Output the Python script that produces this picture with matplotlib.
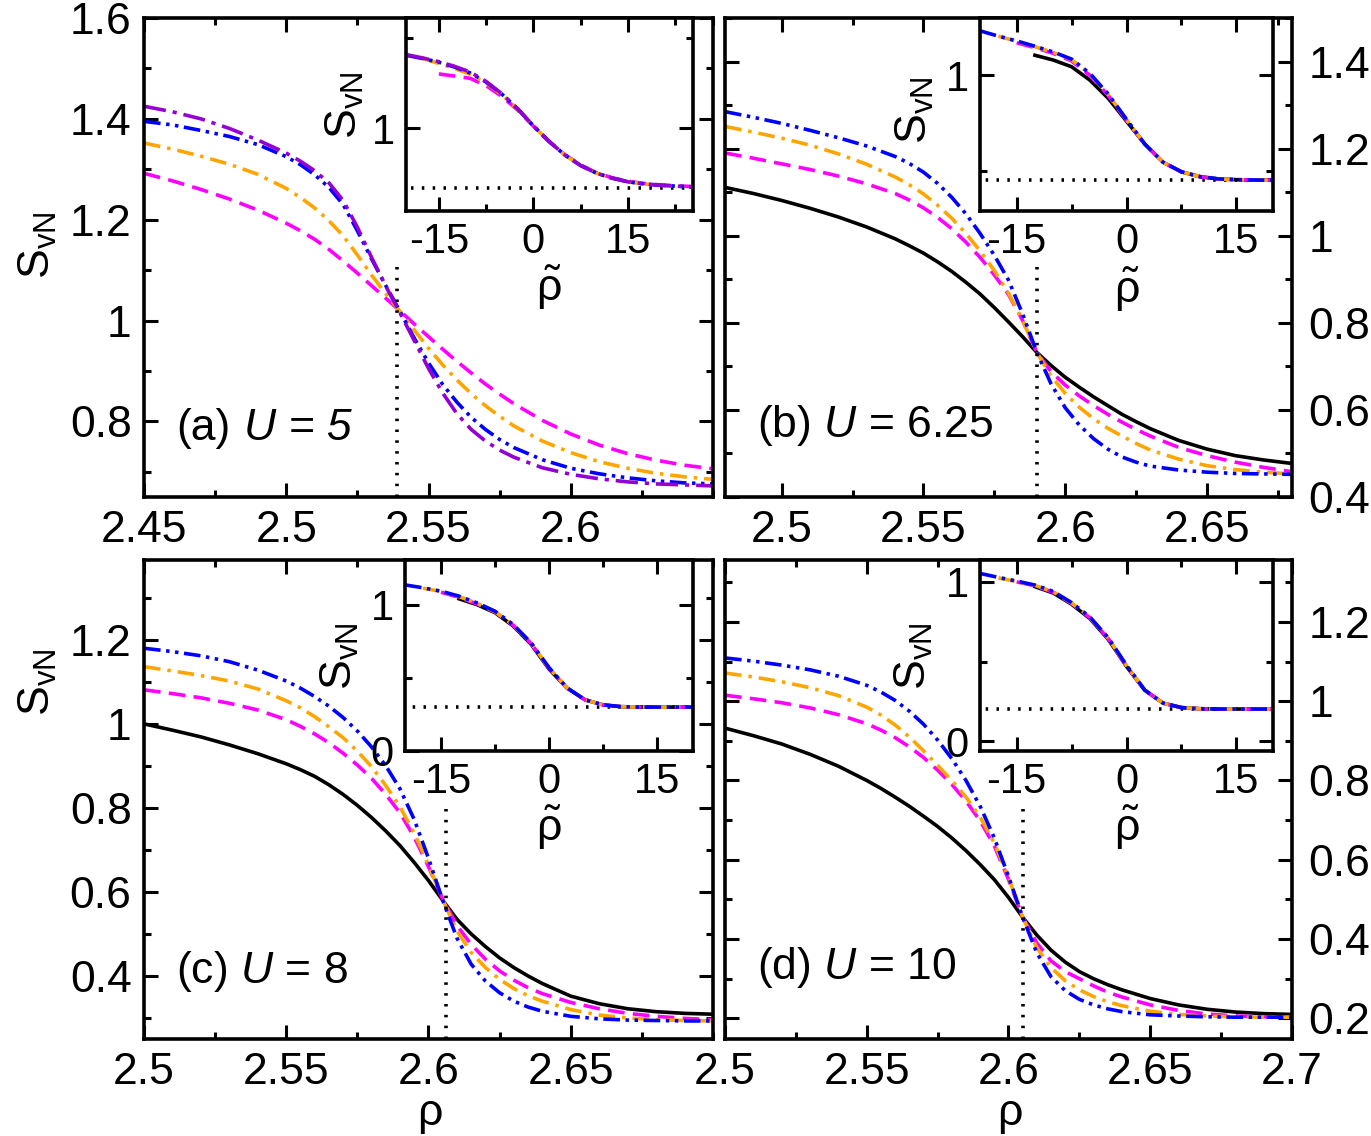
import numpy as np
import matplotlib
matplotlib.use('Agg')
import matplotlib.pyplot as plt
from matplotlib.ticker import MultipleLocator, FixedLocator, FixedFormatter

plt.rcParams['font.family'] = ['Liberation Sans', 'DejaVu Sans']
plt.rcParams['mathtext.fontset'] = 'custom'
plt.rcParams['mathtext.rm'] = 'Liberation Sans'
plt.rcParams['mathtext.it'] = 'Liberation Sans:italic'
plt.rcParams['lines.scale_dashes'] = False

# ---------------- data ----------------
# panel (a) U = 5
rho_a = [2.45, 2.46, 2.47, 2.48, 2.49, 2.50, 2.505, 2.51, 2.515, 2.52, 2.525, 2.53, 2.535, 2.54, 2.545,
         2.55, 2.555, 2.56, 2.565, 2.57, 2.575, 2.58, 2.59, 2.60, 2.61, 2.62, 2.63, 2.64, 2.65]
a_pur = [1.425, 1.414, 1.400, 1.381, 1.358, 1.332, 1.316, 1.297, 1.273, 1.238, 1.185, 1.125, 1.068, 1.015, 0.960,
         0.905, 0.856, 0.815, 0.784, 0.761, 0.743, 0.729, 0.708, 0.695, 0.686, 0.680, 0.676, 0.674, 0.672]
a_blu = [1.395, 1.388, 1.377, 1.365, 1.349, 1.325, 1.309, 1.289, 1.264, 1.230, 1.178, 1.122, 1.069, 1.018, 0.965,
         0.916, 0.873, 0.838, 0.808, 0.784, 0.764, 0.748, 0.724, 0.707, 0.696, 0.688, 0.682, 0.678, 0.676]
a_org = [1.352, 1.340, 1.326, 1.310, 1.290, 1.262, 1.244, 1.223, 1.198, 1.168, 1.130, 1.090, 1.053, 1.018, 0.981,
         0.945, 0.912, 0.882, 0.855, 0.831, 0.810, 0.791, 0.761, 0.738, 0.720, 0.707, 0.697, 0.690, 0.685]
a_mag = [1.292, 1.277, 1.260, 1.241, 1.219, 1.193, 1.178, 1.161, 1.141, 1.118, 1.094, 1.069, 1.044, 1.019, 0.993,
         0.968, 0.943, 0.919, 0.896, 0.874, 0.854, 0.835, 0.802, 0.775, 0.753, 0.736, 0.723, 0.713, 0.706]

# panel (b) U = 6.25
rho_b = [2.48, 2.49, 2.50, 2.51, 2.52, 2.53, 2.54, 2.545, 2.55, 2.555, 2.56, 2.565, 2.57, 2.575, 2.58,
         2.585, 2.59, 2.595, 2.60, 2.605, 2.61, 2.615, 2.62, 2.625, 2.63, 2.64, 2.65, 2.66, 2.67, 2.68]
b_blk = [1.111, 1.097, 1.081, 1.063, 1.043, 1.020, 0.993, 0.977, 0.960, 0.940, 0.918, 0.893, 0.866, 0.835, 0.802,
         0.768, 0.732, 0.702, 0.675, 0.652, 0.630, 0.610, 0.590, 0.573, 0.557, 0.530, 0.510, 0.495, 0.485, 0.477]
b_mag = [1.190, 1.178, 1.165, 1.152, 1.137, 1.119, 1.097, 1.082, 1.064, 1.042, 1.016, 0.985, 0.950, 0.910, 0.865,
         0.805, 0.732, 0.688, 0.657, 0.632, 0.610, 0.590, 0.572, 0.555, 0.540, 0.514, 0.495, 0.480, 0.468, 0.458]
b_org = [1.251, 1.238, 1.224, 1.208, 1.188, 1.164, 1.135, 1.117, 1.096, 1.070, 1.040, 1.005, 0.965, 0.920, 0.868,
         0.805, 0.732, 0.678, 0.638, 0.606, 0.580, 0.558, 0.540, 0.523, 0.508, 0.487, 0.472, 0.463, 0.457, 0.453]
b_blu = [1.285, 1.272, 1.258, 1.242, 1.225, 1.206, 1.182, 1.166, 1.146, 1.120, 1.088, 1.050, 1.005, 0.955, 0.898,
         0.820, 0.732, 0.660, 0.605, 0.565, 0.534, 0.510, 0.492, 0.480, 0.471, 0.462, 0.457, 0.454, 0.453, 0.452]

# panel (c) U = 8
rho_c = [2.50, 2.51, 2.52, 2.53, 2.54, 2.55, 2.555, 2.56, 2.565, 2.57, 2.575, 2.58, 2.585, 2.59, 2.595,
         2.60, 2.605, 2.61, 2.615, 2.62, 2.625, 2.63, 2.635, 2.64, 2.65, 2.66, 2.67, 2.68, 2.69, 2.70]
c_blk = [1.000, 0.985, 0.969, 0.950, 0.929, 0.905, 0.891, 0.875, 0.855, 0.832, 0.806, 0.777, 0.745, 0.710, 0.670,
         0.627, 0.580, 0.535, 0.500, 0.470, 0.443, 0.420, 0.400, 0.382, 0.352, 0.334, 0.322, 0.315, 0.311, 0.309]
c_mag = [1.081, 1.072, 1.062, 1.049, 1.033, 1.010, 0.994, 0.976, 0.955, 0.930, 0.902, 0.870, 0.832, 0.788, 0.730,
         0.660, 0.583, 0.520, 0.475, 0.440, 0.412, 0.390, 0.372, 0.358, 0.337, 0.322, 0.311, 0.304, 0.299, 0.296]
c_org = [1.136, 1.126, 1.115, 1.102, 1.083, 1.055, 1.038, 1.017, 0.993, 0.967, 0.935, 0.898, 0.853, 0.802, 0.740,
         0.664, 0.582, 0.507, 0.456, 0.420, 0.392, 0.370, 0.353, 0.340, 0.320, 0.307, 0.300, 0.296, 0.294, 0.293]
c_blu = [1.180, 1.172, 1.162, 1.148, 1.128, 1.102, 1.085, 1.065, 1.042, 1.015, 0.983, 0.945, 0.900, 0.845, 0.772,
         0.680, 0.580, 0.490, 0.428, 0.388, 0.360, 0.340, 0.326, 0.316, 0.304, 0.298, 0.295, 0.294, 0.293, 0.293]

# panel (d) U = 10
rho_d = [2.50, 2.51, 2.52, 2.53, 2.54, 2.55, 2.555, 2.56, 2.565, 2.57, 2.575, 2.58, 2.585, 2.59, 2.595,
         2.60, 2.605, 2.61, 2.615, 2.62, 2.625, 2.63, 2.635, 2.64, 2.65, 2.66, 2.67, 2.68, 2.69, 2.70]
d_blk = [0.932, 0.913, 0.892, 0.866, 0.836, 0.800, 0.780, 0.758, 0.735, 0.710, 0.684, 0.655, 0.623, 0.588, 0.550,
         0.505, 0.455, 0.410, 0.372, 0.342, 0.318, 0.300, 0.285, 0.272, 0.250, 0.234, 0.223, 0.216, 0.212, 0.210]
d_mag = [1.015, 1.006, 0.996, 0.983, 0.966, 0.943, 0.927, 0.908, 0.885, 0.858, 0.826, 0.790, 0.748, 0.698, 0.635,
         0.550, 0.455, 0.390, 0.345, 0.318, 0.300, 0.282, 0.266, 0.254, 0.234, 0.220, 0.211, 0.206, 0.204, 0.203]
d_org = [1.071, 1.061, 1.049, 1.034, 1.014, 0.985, 0.965, 0.940, 0.910, 0.875, 0.838, 0.800, 0.758, 0.708, 0.642,
         0.556, 0.455, 0.378, 0.328, 0.295, 0.272, 0.255, 0.242, 0.232, 0.218, 0.210, 0.206, 0.204, 0.203, 0.203]
d_blu = [1.109, 1.101, 1.091, 1.079, 1.063, 1.040, 1.023, 1.002, 0.975, 0.942, 0.902, 0.855, 0.800, 0.735, 0.655,
         0.558, 0.455, 0.365, 0.305, 0.270, 0.248, 0.234, 0.224, 0.217, 0.209, 0.206, 0.204, 0.203, 0.203, 0.203]

# insets: scaled density  rho~
rt_a = [-20, -17.5, -15, -12.5, -10, -7.5, -5, -2.5, 0, 2.5, 5, 7.5, 10, 12.5, 15, 17.5, 20, 22.5, 25]
ia_mag = [None, None, 1.300, 1.288, 1.275, 1.235, 1.175, 1.100, 1.010, 0.925, 0.852, 0.795, 0.752, 0.724, 0.705, 0.693, 0.685, 0.680, 0.676]
ia_org = [None, 1.385, 1.358, 1.330, 1.298, 1.250, 1.185, 1.105, 1.012, 0.925, 0.850, 0.792, 0.750, 0.722, 0.702, 0.690, 0.683, 0.678, 0.674]
ia_blu = [1.402, 1.385, 1.365, 1.338, 1.305, 1.255, 1.188, 1.106, 1.012, 0.925, 0.850, 0.792, 0.750, 0.722, 0.702, 0.690, 0.683, 0.678, 0.674]
ia_pur = [1.406, 1.388, 1.368, 1.342, 1.310, 1.258, 1.190, 1.108, 1.012, 0.925, 0.850, 0.792, 0.750, 0.722, 0.702, 0.690, 0.683, 0.678, 0.674]

rt_b = [-20, -17.5, -15, -12.5, -10, -7.5, -5, -2.5, 0, 2.5, 5, 7.5, 10, 12.5, 15, 17.5, 20]
ib_blk = [None, None, None, 1.105, 1.080, 1.045, 0.975, 0.880, 0.760, 0.640, 0.545, 0.495, 0.470, 0.458, 0.454, 0.452, 0.451]
ib_mag = [None, None, 1.170, 1.145, 1.115, 1.075, 1.000, 0.895, 0.765, 0.640, 0.545, 0.495, 0.470, 0.458, 0.454, 0.452, 0.451]
ib_org = [None, 1.205, 1.178, 1.150, 1.120, 1.082, 1.008, 0.900, 0.768, 0.640, 0.545, 0.495, 0.470, 0.458, 0.454, 0.452, 0.451]
ib_blu = [1.233, 1.205, 1.180, 1.152, 1.122, 1.085, 1.010, 0.902, 0.770, 0.640, 0.545, 0.495, 0.470, 0.458, 0.454, 0.452, 0.451]

rt_c = [-20, -17.5, -15, -12.5, -10, -7.5, -5, -2.5, 0, 2.5, 5, 7.5, 10, 12.5, 15, 17.5, 20]
ic_blk = [None, None, None, 1.040, 1.000, 0.945, 0.855, 0.730, 0.560, 0.430, 0.350, 0.315, 0.303, 0.300, 0.300, 0.300, 0.300]
ic_mag = [None, None, 1.085, 1.050, 1.005, 0.950, 0.860, 0.735, 0.565, 0.430, 0.350, 0.315, 0.303, 0.300, 0.300, 0.300, 0.300]
ic_org = [None, 1.112, 1.090, 1.055, 1.010, 0.952, 0.862, 0.738, 0.568, 0.432, 0.350, 0.315, 0.303, 0.300, 0.300, 0.300, 0.300]
ic_blu = [1.135, 1.115, 1.092, 1.058, 1.012, 0.955, 0.865, 0.740, 0.570, 0.432, 0.350, 0.315, 0.303, 0.300, 0.300, 0.300, 0.300]

rt_d = [-20, -17.5, -15, -12.5, -10, -7.5, -5, -2.5, 0, 2.5, 5, 7.5, 10, 12.5, 15, 17.5, 20]
id_blk = [None, None, None, 0.970, 0.930, 0.860, 0.770, 0.640, 0.470, 0.320, 0.240, 0.212, 0.205, 0.203, 0.203, 0.203, 0.203]
id_mag = [None, None, 1.000, 0.975, 0.935, 0.865, 0.775, 0.645, 0.472, 0.320, 0.240, 0.212, 0.205, 0.203, 0.203, 0.203, 0.203]
id_org = [None, 1.025, 1.002, 0.978, 0.938, 0.868, 0.778, 0.648, 0.475, 0.322, 0.240, 0.212, 0.205, 0.203, 0.203, 0.203, 0.203]
id_blu = [1.053, 1.028, 1.005, 0.980, 0.940, 0.870, 0.780, 0.650, 0.478, 0.322, 0.240, 0.212, 0.205, 0.203, 0.203, 0.203, 0.203]

rho_c_a, rho_c_b, rho_c_c, rho_c_d = 2.539, 2.590, 2.606, 2.605
base_a, base_b, base_c, base_d = 0.668, 0.451, 0.300, 0.203

# ---------------- styles ----------------
LW = 2.6
STY = {
    'blk': dict(color='black', ls='-'),
    'mag': dict(color='#ff00ff', ls=(0, (12, 6))),
    'org': dict(color='#ffa500', ls=(0, (12, 5, 2.5, 5))),
    'blu': dict(color='#0000ff', ls=(0, (12, 4, 2.5, 4, 2.5, 4))),
    'pur': dict(color='#9400d3', ls=(0, (16, 5, 3, 5))),
}

W, H = 1371, 1136
fig = plt.figure(figsize=(W / 100, H / 100), dpi=100)


def rect(x0, y0, x1, y1):
    return [x0 / W, 1 - y1 / H, (x1 - x0) / W, (y1 - y0) / H]


def ftext(px, py, s, **kw):
    fig.text(px / W, 1 - py / H, s, **kw)


def style_axes(ax, lw=2.6):
    for sp in ax.spines.values():
        sp.set_linewidth(lw)
    ax.tick_params(which='both', direction='in', top=True, bottom=True,
                   left=True, right=True, width=2.2)
    ax.tick_params(which='major', length=10)
    ax.tick_params(which='minor', length=5)


def plot_series(ax, x, series):
    for key, y in series:
        y = np.array([np.nan if v is None else v for v in y], dtype=float)
        ax.plot(x, y, lw=LW, **STY[key])


def fmt(v):
    return ('%.2f' % v).rstrip('0').rstrip('.')


def main_panel(r, x, series, xlim, ylim, xt, yt, side, xc, vtop):
    ax = fig.add_axes(rect(*r))
    plot_series(ax, x, series)
    ax.plot([xc, xc], [ylim[0], vtop], color='black', ls=(0, (1.8, 6)), lw=2.6,
            dash_capstyle='butt')
    ax.set_xlim(*xlim)
    ax.set_ylim(*ylim)
    style_axes(ax)
    ax.xaxis.set_major_locator(FixedLocator(xt))
    ax.xaxis.set_major_formatter(FixedFormatter([fmt(v) for v in xt]))
    ax.xaxis.set_minor_locator(MultipleLocator(0.025))
    ax.yaxis.set_major_locator(FixedLocator(yt))
    ax.yaxis.set_major_formatter(FixedFormatter([fmt(v) for v in yt]))
    ax.yaxis.set_minor_locator(MultipleLocator(0.1))
    ax.tick_params(axis='x', labelsize=32, pad=9)
    ax.tick_params(axis='y', labelsize=32, pad=9)
    if side == 'right':
        ax.tick_params(axis='y', labelleft=False, labelright=True, pad=12)
    return ax


def inset(r, x, series, xlim, ylim, yt, base):
    ax = fig.add_axes(rect(*r))
    ax.set_facecolor('white')
    ax.plot([-40, 40], [base, base], color='black', ls=(0, (1.8, 6)), lw=2.6,
            dash_capstyle='butt')
    plot_series(ax, x, series)
    ax.set_xlim(*xlim)
    ax.set_ylim(*ylim)
    style_axes(ax)
    ax.xaxis.set_major_locator(FixedLocator([-15, 0, 15]))
    ax.xaxis.set_major_formatter(FixedFormatter(['-15', '0', '15']))
    ax.xaxis.set_minor_locator(FixedLocator([-22.5, -7.5, 7.5, 22.5]))
    ax.yaxis.set_major_locator(FixedLocator(yt))
    ax.yaxis.set_major_formatter(FixedFormatter([fmt(v) for v in yt]))
    ax.yaxis.set_minor_locator(FixedLocator([0.5, 1.5]))
    ax.tick_params(labelsize=30, pad=8)
    return ax


SLAB = r'$\mathrm{S}_{\mathrm{vN}}$'
RT = r'$\tilde{\mathrm{\rho}}$'

# (a)
main_panel((144, 18, 713, 497), rho_a,
           [('mag', a_mag), ('org', a_org), ('blu', a_blu), ('pur', a_pur)],
           (2.45, 2.65), (0.65, 1.6), [2.45, 2.5, 2.55, 2.6], [0.8, 1.0, 1.2, 1.4, 1.6],
           'left', rho_c_a, 1.12)
# (b)
main_panel((725, 18, 1292, 497), rho_b,
           [('blk', b_blk), ('mag', b_mag), ('org', b_org), ('blu', b_blu)],
           (2.48, 2.68), (0.4, 1.5), [2.5, 2.55, 2.6, 2.65], [0.4, 0.6, 0.8, 1.0, 1.2, 1.4],
           'right', rho_c_b, 0.94)
# (c)
main_panel((144, 560, 713, 1039), rho_c,
           [('blk', c_blk), ('mag', c_mag), ('org', c_org), ('blu', c_blu)],
           (2.5, 2.7), (0.25, 1.39), [2.5, 2.55, 2.6, 2.65], [0.4, 0.6, 0.8, 1.0, 1.2],
           'left', rho_c_c, 0.81)
# (d)
main_panel((725, 560, 1292, 1039), rho_d,
           [('blk', d_blk), ('mag', d_mag), ('org', d_org), ('blu', d_blu)],
           (2.5, 2.7), (0.148, 1.356), [2.5, 2.55, 2.6, 2.65, 2.7], [0.2, 0.4, 0.6, 0.8, 1.0, 1.2],
           'right', rho_c_d, 0.735)

# panel labels
ftext(176, 428, '(a)', fontsize=32, va='center', ha='left')
ftext(244, 428, 'U = 5', fontsize=32, va='center', ha='left', style='italic')
ftext(757, 425, r'(b) $\mathit{U}$ = 6.25', fontsize=32, va='center', ha='left')
ftext(176, 972, r'(c) $\mathit{U}$ = 8', fontsize=32, va='center', ha='left')
ftext(757, 968, r'(d) $\mathit{U}$ = 10', fontsize=32, va='center', ha='left')

# insets
inset((406, 18, 693, 211), rt_a,
      [('mag', ia_mag), ('org', ia_org), ('blu', ia_blu), ('pur', ia_pur)],
      (-20.2, 25.3), (0.54, 1.61), [1.0], base_a)
inset((980, 18, 1273, 211), rt_b,
      [('blk', ib_blk), ('mag', ib_mag), ('org', ib_org), ('blu', ib_blu)],
      (-20, 20), (0.29, 1.30), [1.0], base_b)
inset((405, 560, 693, 751), rt_c,
      [('blk', ic_blk), ('mag', ic_mag), ('org', ic_org), ('blu', ic_blu)],
      (-20, 20), (0.0, 1.305), [0.0, 1.0], base_c)
inset((980, 560, 1273, 751), rt_d,
      [('blk', id_blk), ('mag', id_mag), ('org', id_org), ('blu', id_blu)],
      (-20, 20), (-0.06, 1.137), [0.0, 1.0], base_d)

# axis labels
ftext(38, 245, SLAB, fontsize=32, rotation=90, ha='center', va='center')
ftext(38, 682, SLAB, fontsize=32, rotation=90, ha='center', va='center')
ftext(430, 1115, r'$\mathrm{\rho}$', fontsize=32, ha='center', va='center')
ftext(1010, 1115, r'$\mathrm{\rho}$', fontsize=32, ha='center', va='center')
# inset labels
ftext(345, 105, SLAB, fontsize=32, rotation=90, ha='center', va='center')
ftext(915, 110, SLAB, fontsize=32, rotation=90, ha='center', va='center')
ftext(340, 656, SLAB, fontsize=32, rotation=90, ha='center', va='center')
ftext(914, 656, SLAB, fontsize=32, rotation=90, ha='center', va='center')
ftext(549, 288, RT, fontsize=32, ha='center', va='center')
ftext(1127, 290, RT, fontsize=32, ha='center', va='center')
ftext(549, 828, RT, fontsize=32, ha='center', va='center')
ftext(1127, 828, RT, fontsize=32, ha='center', va='center')

fig.savefig('out.png', dpi=100)
